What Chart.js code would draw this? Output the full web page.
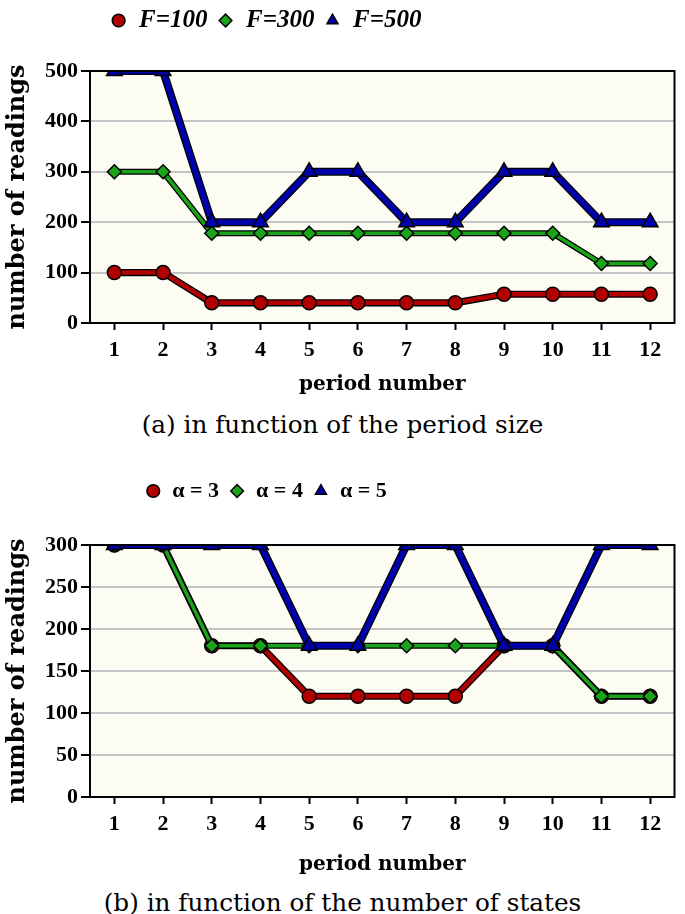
<!DOCTYPE html>
<html>
<head>
<meta charset="utf-8">
<script src="https://cdn.jsdelivr.net/npm/chart.js@4.4.1/dist/chart.umd.min.js"></script>
<style>
  body { margin: 0; background: #fff; width: 685px; height: 914px; position: relative; overflow: hidden; }
  .box { position: absolute; left: 0; }
  .box canvas { display: block; }
  .caption { position: absolute; left: 0; width: 685px; text-align: center; font-family: 'DejaVu Serif'; font-size: 24.7px; line-height: 30px; color: #000; }
</style>
</head>
<body>
<div class="box" style="top:-2px"><canvas id="chartA" width="685" height="403"></canvas></div>
<div class="caption" style="top:410px">(a) in function of the period size</div>
<div class="box" style="top:470px"><canvas id="chartB" width="685" height="411"></canvas></div>
<div class="caption" style="top:888px">(b) in function of the number of states</div>
<script>
// data
var periods = ['1', '2', '3', '4', '5', '6', '7', '8', '9', '10', '11', '12'];

var namesA = ['F=100', 'F=300', 'F=500'];
var f100 = [100, 100, 40, 40, 40, 40, 40, 40, 57, 57, 57, 57];
var f300 = [300, 300, 178, 178, 178, 178, 178, 178, 178, 178, 118, 118];
var f500 = [500, 500, 200, 200, 300, 300, 200, 200, 300, 300, 200, 200];
var yTicksA = [0, 100, 200, 300, 400, 500];

var namesB = ['α = 3', 'α = 4', 'α = 5'];
var alpha3 = [300, 300, 180, 180, 120, 120, 120, 120, 180, 180, 120, 120];
var alpha4 = [300, 300, 180, 180, 180, 180, 180, 180, 180, 180, 120, 120];
var alpha5 = [300, 300, 300, 300, 180, 180, 300, 300, 180, 180, 300, 300];
var yTicksB = [0, 50, 100, 150, 200, 250, 300];

var RED = '#b00000', GREEN = '#19a419', BLUE = '#0000aa';

// background, black outline under each line, clip to the plot, frame, legend placement
var plotFrame = {
    id: 'plotFrame',
    beforeInit: function (chart, args, opts) {
        var fit = chart.legend.fit;
        chart.legend.fit = function () {
            fit.call(this);
            this.height = opts.legendBand;
        };
    },
    afterLayout: function (chart, args, opts) {
        var lg = chart.legend;
        lg.left = 0;
        lg.right = opts.legendCenter * 2;
        lg.width = opts.legendCenter * 2;
    },
    beforeDraw: function (chart) {
        var a = chart.chartArea, ctx = chart.ctx;
        ctx.save();
        ctx.fillStyle = '#fcfcf2';
        ctx.fillRect(a.left, a.top, a.right - a.left, a.bottom - a.top);
        ctx.restore();
    },
    beforeDatasetDraw: function (chart, args) {
        var a = chart.chartArea, ctx = chart.ctx;
        var ds = chart.data.datasets[args.index];
        var pts = args.meta.data;
        ctx.save(); // restored in afterDatasetDraw, keeps line and points inside the plot
        ctx.beginPath();
        ctx.rect(a.left, a.top, a.right - a.left, a.bottom - a.top);
        ctx.clip();
        ctx.beginPath();
        pts.forEach(function (p, i) {
            if (i === 0) ctx.moveTo(p.x, p.y);
            else ctx.lineTo(p.x, p.y);
        });
        ctx.lineWidth = ds.borderWidth + 2.6;
        ctx.strokeStyle = '#000';
        ctx.lineJoin = 'miter';
        ctx.stroke();
    },
    afterDatasetDraw: function (chart) {
        chart.ctx.restore();
    },
    afterDraw: function (chart) {
        var a = chart.chartArea, ctx = chart.ctx;
        ctx.save();
        ctx.strokeStyle = '#000';
        ctx.lineWidth = 2;
        ctx.strokeRect(a.left, a.top, a.right - a.left, a.bottom - a.top);
        ctx.restore();
    }
};

function series(label, values, color, style, radius, width, order) {
    return {
        label: label,
        data: values,
        borderColor: color,
        backgroundColor: color,
        borderWidth: width,
        pointBackgroundColor: color,
        pointBorderColor: '#000',
        pointBorderWidth: 1.5,
        pointStyle: style,
        pointRadius: radius,
        pointHoverRadius: radius,
        order: order,
        clip: 0
    };
}

function makeScales(yTicks, xHeight) {
    var tickFont = { family: 'Liberation Serif', weight: 'bold', size: 22 };
    return {
        x: {
            offset: true,
            afterFit: function (s) { s.height = xHeight; },
            grid: { drawOnChartArea: false, tickLength: 7, tickWidth: 2, tickColor: '#000', color: '#000' },
            border: { color: '#000', width: 2 },
            ticks: { font: tickFont, color: '#000', padding: 7, autoSkip: false, maxRotation: 0 },
            title: {
                display: true, text: 'period number', color: '#000',
                font: { family: 'DejaVu Serif', weight: 'bold', size: 20 }
            }
        },
        y: {
            min: yTicks[0],
            max: yTicks[yTicks.length - 1],
            afterFit: function (s) { s.width = 90; },
            grid: { color: '#c4c4c4', lineWidth: 2, tickLength: 9, tickWidth: 2, tickColor: '#000' },
            border: { color: '#000', width: 2 },
            ticks: { stepSize: yTicks[1] - yTicks[0], font: tickFont, color: '#000', padding: 3 },
            title: {
                display: true, text: 'number of readings', color: '#000',
                padding: { top: 3, bottom: 3 },
                font: { family: 'DejaVu Serif', weight: 'bold', size: 24 }
            }
        }
    };
}

function makeOptions(yTicks, xHeight, legendFont, legendBand) {
    return {
        responsive: false,
        devicePixelRatio: 1,
        animation: false,
        layout: { padding: { left: 0, right: 4, top: 0, bottom: 0 } },
        scales: makeScales(yTicks, xHeight),
        plugins: {
            tooltip: { enabled: false },
            plotFrame: { legendBand: legendBand, legendCenter: 266 },
            legend: {
                position: 'top',
                labels: {
                    usePointStyle: true,
                    boxWidth: 16,
                    boxHeight: 9,
                    padding: 10,
                    color: '#000',
                    font: legendFont,
                    sort: function (a, b) { return a.datasetIndex - b.datasetIndex; }
                }
            }
        }
    };
}

new Chart(document.getElementById('chartA'), {
    type: 'line',
    data: {
        labels: periods,
        datasets: [
            series(namesA[0], f100, RED, 'circle', 7, 4.5, 3),
            series(namesA[1], f300, GREEN, 'rectRot', 7, 3.5, 2),
            series(namesA[2], f500, BLUE, 'triangle', 9, 5.5, 1)
        ]
    },
    options: makeOptions(yTicksA, 78, { family: 'Liberation Serif', style: 'italic', weight: 'bold', size: 25 }, 73),
    plugins: [plotFrame]
});

new Chart(document.getElementById('chartB'), {
    type: 'line',
    data: {
        labels: periods,
        datasets: [
            series(namesB[0], alpha3, RED, 'circle', 7, 4.5, 3),
            series(namesB[1], alpha4, GREEN, 'rectRot', 7, 3.5, 2),
            series(namesB[2], alpha5, BLUE, 'triangle', 9, 5.5, 1)
        ]
    },
    options: makeOptions(yTicksB, 84, { family: 'Liberation Serif', weight: 'bold', size: 22 }, 75),
    plugins: [plotFrame]
});
</script>
</body>
</html>
